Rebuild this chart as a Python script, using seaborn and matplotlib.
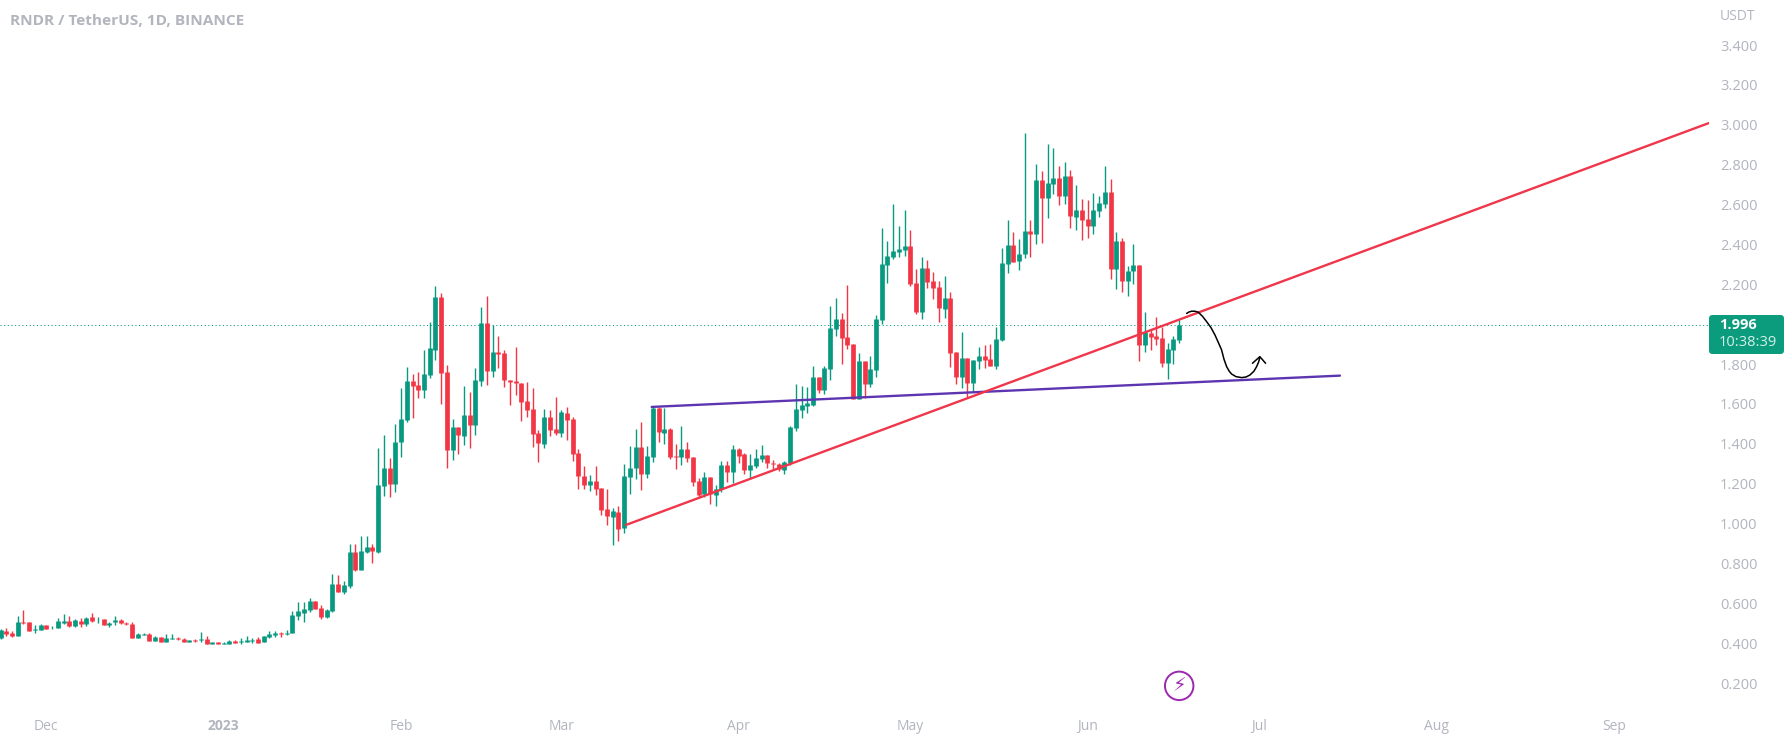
import numpy as np
import pandas as pd
import matplotlib
matplotlib.use("Agg")
import matplotlib.pyplot as plt
from matplotlib.patches import FancyBboxPatch
import seaborn as sns

opens = [.424,.461,.453,.438,.506,.506,.464,.468,.491,.474,.478,.501,.510,.486,.510,.498,.530,.515,.520,.493,
 .505,.516,.500,.495,.428,.443,.446,.413,.429,.408,.421,.426,.421,.408,.414,.416,.421,.398,.404,.398,
 .398,.409,.404,.408,.411,.421,.408,.431,.439,.451,.448,.453,.538,.553,.566,.610,.575,.530,.563,.695,
 .658,.688,.858,.769,.856,.882,.856,1.190,1.277,1.200,1.409,1.520,1.715,1.695,1.672,1.747,1.872,2.136,1.759,1.371,
 1.484,1.441,1.545,1.496,1.717,2.006,1.767,1.859,1.856,1.719,1.713,1.705,1.615,1.575,1.454,1.401,1.535,1.474,1.456,1.553,
 1.525,1.354,1.239,1.194,1.214,1.177,1.072,1.035,1.058,.976,1.235,1.277,1.384,1.250,1.336,1.581,1.456,1.473,1.339,1.334,
 1.372,1.333,1.212,1.148,1.232,1.145,1.172,1.292,1.259,1.374,1.349,1.269,1.291,1.324,1.342,1.304,1.301,1.269,1.302,1.481,
 1.571,1.591,1.596,1.734,1.670,1.775,1.978,2.026,1.936,1.901,1.626,1.815,1.700,1.772,2.021,2.297,2.337,2.362,2.374,2.392,
 2.207,2.061,2.282,2.217,2.187,2.078,2.131,1.860,1.735,1.830,1.705,1.815,1.839,1.824,1.790,1.921,2.304,2.395,2.317,2.350,
 2.467,2.452,2.723,2.633,2.703,2.733,2.643,2.743,2.538,2.573,2.526,2.492,2.568,2.603,2.663,2.277,2.417,2.217,2.267,2.297,
 1.896,1.956,1.939,1.931,1.805,1.871,1.921]
highs = [.470,.475,.459,.536,.566,.508,.491,.495,.493,.486,.525,.546,.536,.521,.525,.530,.550,.533,.521,.505,
 .536,.520,.505,.505,.449,.449,.449,.434,.431,.446,.446,.429,.424,.416,.421,.454,.436,.408,.408,.404,
 .414,.414,.424,.434,.426,.429,.438,.461,.463,.456,.466,.563,.608,.606,.628,.611,.593,.573,.747,.742,
 .712,.898,.898,.938,.938,.898,1.377,1.444,1.327,1.500,1.678,1.787,1.749,1.759,1.871,2.009,2.192,2.155,1.794,1.525,
 1.486,1.690,1.660,1.779,2.088,2.141,1.996,1.941,1.869,1.722,1.887,1.707,1.712,1.678,1.469,1.573,1.570,1.637,1.570,1.583,
 1.536,1.372,1.289,1.244,1.291,1.178,1.174,1.077,1.090,1.297,1.389,1.474,1.510,1.391,1.583,1.586,1.581,1.481,1.399,1.490,
 1.408,1.334,1.227,1.257,1.233,1.194,1.314,1.312,1.393,1.378,1.352,1.349,1.374,1.394,1.344,1.319,1.306,1.314,1.490,1.700,
 1.690,1.683,1.790,1.736,1.790,2.093,2.133,2.054,2.197,1.903,1.854,1.817,1.840,2.046,2.481,2.417,2.603,2.494,2.573,2.472,
 2.275,2.335,2.322,2.262,2.217,2.242,2.161,1.861,1.959,1.832,1.822,1.887,1.896,1.901,1.984,2.380,2.522,2.462,2.427,2.957,
 2.522,2.803,2.768,2.904,2.884,2.793,2.813,2.773,2.696,2.628,2.623,2.656,2.643,2.793,2.728,2.462,2.432,2.292,2.402,2.299,
 2.061,1.971,2.036,1.988,1.904,1.941,2.021]
lows = [.421,.436,.433,.436,.496,.462,.449,.466,.469,.473,.476,.498,.480,.480,.483,.488,.508,.503,.491,.483,
 .490,.498,.490,.427,.426,.439,.409,.411,.406,.406,.419,.416,.406,.406,.404,.406,.396,.396,.394,.394,
 .394,.399,.398,.404,.403,.401,.406,.428,.433,.433,.439,.449,.516,.508,.556,.571,.523,.526,.556,.656,
 .648,.678,.760,.767,.852,.803,.851,1.138,1.133,1.160,1.336,1.508,1.531,1.632,1.632,1.732,1.822,1.602,1.281,1.319,
 1.347,1.392,1.381,1.444,1.692,1.693,1.734,1.779,1.683,1.595,1.645,1.515,1.536,1.386,1.309,1.381,1.439,1.444,1.436,1.419,
 1.314,1.174,1.175,1.165,1.145,1.045,.995,.893,.911,.955,1.148,1.225,1.167,1.230,1.311,1.409,1.398,1.322,1.274,1.294,
 1.307,1.190,1.127,1.135,1.098,1.090,1.160,1.209,1.205,1.306,1.249,1.227,1.277,1.311,1.277,1.269,1.264,1.249,1.294,1.466,
 1.530,1.556,1.591,1.657,1.650,1.720,1.943,1.800,1.877,1.623,1.623,1.628,1.683,1.733,2.001,2.205,2.327,2.335,2.342,2.191,
 2.051,2.028,2.181,2.126,2.011,2.031,1.787,1.700,1.680,1.633,1.658,1.774,1.779,1.789,1.775,1.916,2.257,2.311,2.270,2.330,
 2.335,2.402,2.407,2.533,2.653,2.596,2.603,2.483,2.472,2.422,2.432,2.452,2.538,2.583,2.227,2.177,2.162,2.141,2.202,1.814,
 1.861,1.871,1.896,1.787,1.725,1.800,1.906]
closes = [.466,.446,.438,.506,.501,.463,.470,.490,.473,.478,.510,.511,.486,.516,.498,.525,.513,.518,.493,.503,
 .516,.500,.495,.428,.446,.446,.413,.431,.408,.424,.424,.419,.408,.414,.409,.421,.398,.404,.396,.401,
 .409,.403,.409,.416,.416,.403,.434,.444,.449,.446,.453,.541,.560,.571,.611,.573,.530,.566,.697,.658,
 .691,.858,.767,.862,.882,.862,1.194,1.277,1.200,1.408,1.523,1.715,1.692,1.672,1.749,1.879,2.136,1.757,1.371,1.484,
 1.444,1.545,1.494,1.720,2.006,1.767,1.861,1.852,1.719,1.712,1.707,1.612,1.571,1.451,1.406,1.535,1.471,1.454,1.558,1.521,
 1.351,1.240,1.194,1.214,1.175,1.070,1.040,1.062,.975,1.237,1.277,1.384,1.250,1.339,1.581,1.461,1.474,1.336,1.336,1.372,
 1.331,1.210,1.145,1.232,1.147,1.175,1.292,1.259,1.374,1.341,1.269,1.292,1.327,1.344,1.304,1.301,1.272,1.309,1.486,1.575,
 1.595,1.606,1.734,1.670,1.780,1.981,2.026,1.932,1.897,1.626,1.815,1.700,1.775,2.026,2.302,2.340,2.367,2.377,2.392,2.202,
 2.061,2.282,2.212,2.181,2.080,2.131,1.855,1.735,1.830,1.705,1.820,1.839,1.820,1.790,1.924,2.307,2.395,2.312,2.350,2.467,
 2.452,2.723,2.633,2.708,2.733,2.643,2.743,2.543,2.573,2.523,2.492,2.573,2.608,2.663,2.277,2.417,2.217,2.265,2.297,1.896,
 1.961,1.936,1.926,1.805,1.876,1.926,1.996]

first_day = "2022-11-23"
tick_dates = ["2022-12-01","2023-01-01","2023-02-01","2023-03-01","2023-04-01","2023-05-01",
              "2023-06-01","2023-07-01","2023-08-01","2023-09-01"]
tick_names = ["Dec","2023","Feb","Mar","Apr","May","Jun","Jul","Aug","Sep"]
price_ticks = [0.2,0.4,0.6,0.8,1.0,1.2,1.4,1.6,1.8,2.2,2.4,2.6,2.8,3.0,3.2,3.4]
last_price = 1.996
countdown = "10:38:39"
red_line_days = [70.3, 259.6]
red_line_prices = [0.993, 3.009]
purple_line_days = [74.8, 195.1]
purple_line_prices = [1.585, 1.742]
curve_days = [168.30,168.70,169.17,169.75,170.33,171.09,171.79,172.55,173.25,173.83,174.41,174.82,
              175.29,175.75,176.16,176.92,177.91,178.67,179.36,180.06,180.53,180.88,181.11]
curve_prices = [2.054,2.061,2.065,2.065,2.060,2.039,2.013,1.983,1.946,1.909,1.871,1.825,
                1.787,1.764,1.750,1.737,1.732,1.735,1.745,1.764,1.787,1.810,1.834]
head_days = [179.8,181.1,182.1]
head_prices = [1.804,1.837,1.804]

GREEN, RED, GREY = "#089981", "#f23645", "#b2b5be"
sns.set_theme(style="white", rc={"axes.spines.left": False, "axes.spines.right": False,
                                 "axes.spines.top": False, "axes.spines.bottom": False})
plt.rcParams["font.family"] = ["Open Sans", "DejaVu Sans"]

epoch = pd.Timestamp("2023-01-01")
n = len(closes)
assert n == len(opens) == len(highs) == len(lows)
days = np.asarray((pd.date_range(first_day, periods=n) - epoch).days, dtype=float)
direction = np.where(np.array(closes) >= np.array(opens), "up", "down")
palette = {"up": GREEN, "down": RED}

def long_form(a, b):
    return pd.DataFrame({
        "day": np.r_[days, days],
        "price": np.r_[a, b],
        "candle": np.r_[np.arange(n), np.arange(n)],
        "direction": np.r_[direction, direction],
    })

fig = plt.figure(figsize=(17.89, 7.38), dpi=100, facecolor="white")
ax = fig.add_axes([0, 38/738, 1709/1789, 700/738])
ax.set_facecolor("white")

ax.axhline(last_price, color=GREEN, lw=0.75, ls=(0, (1, 2.5)), zorder=1)
sns.lineplot(data=long_form(lows, highs), x="day", y="price", units="candle", hue="direction",
             palette=palette, estimator=None, sort=False, legend=False, lw=1.0,
             solid_capstyle="butt", zorder=2, ax=ax)
sns.lineplot(data=long_form(opens, closes), x="day", y="price", units="candle", hue="direction",
             palette=palette, estimator=None, sort=False, legend=False, lw=3.4,
             solid_capstyle="butt", zorder=3, ax=ax)

sns.lineplot(x=purple_line_days, y=purple_line_prices, color="#5e35b1", lw=1.7, zorder=4, ax=ax)
sns.lineplot(x=red_line_days, y=red_line_prices, color="#f0364a", lw=1.7, zorder=5, ax=ax)
sns.lineplot(x=curve_days, y=curve_prices, color="black", lw=1.1, sort=False, zorder=6, ax=ax)
sns.lineplot(x=head_days, y=head_prices, color="black", lw=1.1, sort=False, zorder=6, ax=ax)

ax.set_xlim(-39.1, 259.6)
ax.set_ylim(0.115, 3.626)
ax.set_xlabel(""); ax.set_ylabel("")

tick_days = [(pd.Timestamp(d) - epoch).days for d in tick_dates]
ax.set_xticks(tick_days, tick_names)
ax.yaxis.tick_right()
ax.set_yticks(price_ticks, [f"{p:.3f}" for p in price_ticks])
ax.tick_params(axis="x", length=0, pad=14, labelsize=10, labelcolor=GREY)
ax.tick_params(axis="y", length=0, pad=8, labelsize=10.5, labelcolor=GREY)
for lab in ax.get_xticklabels():
    if lab.get_text() == "2023":
        lab.set_fontweight("bold")

# Title and price-scale header
fig.text(10/1789, 1-21/738, "RNDR / TetherUS, 1D, BINANCE", color=GREY, fontsize=11.1,
         fontweight="bold", va="center", ha="left")
fig.text(1720/1789, 1-16/738, "USDT", color=GREY, fontsize=10, va="center", ha="left")

# Last-price tag
tag = FancyBboxPatch((1709/1789, 1-354/738), 75/1789, 39/738, transform=fig.transFigure,
                     boxstyle="round,pad=0,rounding_size=0.002", mutation_aspect=2.4,
                     fc="#0b9b7d", ec="none", clip_on=False, zorder=10)
fig.add_artist(tag)
t1 = fig.text(1719/1789, 1-325/738, f"{last_price:.3f}", color="white", fontsize=10.5, fontweight="bold",
              va="center", ha="left", zorder=11)
t2 = fig.text(1719/1789, 1-343/738, countdown, color="#d5f0ea", fontsize=10.5, va="center", ha="left", zorder=11)

# Lightning icon
sns.scatterplot(x=[167], y=[0.186], s=420, marker="o", facecolor="none", edgecolor="#9c27b0",
                linewidth=1.4, zorder=7, clip_on=False, ax=ax)
ax.text(167, 0.186, "\u26a1", color="#9c27b0", fontsize=14, family="DejaVu Sans", fontweight="bold",
        ha="center", va="center", zorder=8)

fig.savefig("out.png", dpi=100, facecolor="white")
